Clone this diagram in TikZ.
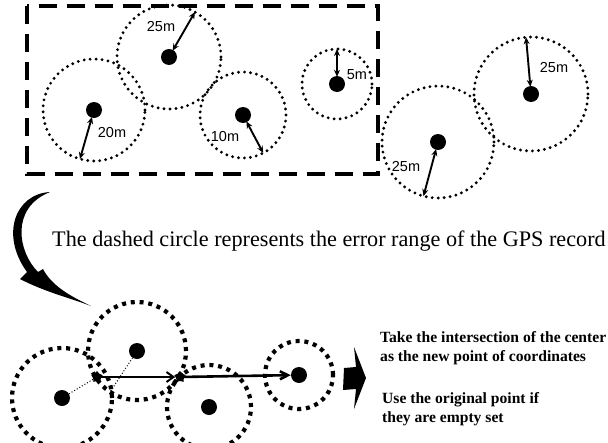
\documentclass[tikz,border=0pt]{standalone}
\usepackage{fontspec}
\setmainfont{Liberation Serif}
\newfontfamily\lsans{Liberation Sans}
\usetikzlibrary{arrows.meta,shapes.geometric}
\begin{document}
\begin{tikzpicture}[x=1pt,y=-1pt,
 dotc/.style={draw, circle, inner sep=0pt, outer sep=0pt, minimum size=#1, line width=3.2pt, dash pattern=on 0pt off 6pt, line cap=round},
 sqc/.style={draw, circle, inner sep=0pt, outer sep=0pt, minimum size=#1, line width=4.2pt, dash pattern=on 4pt off 4.8pt},
 ctr/.style={circle, fill=black, inner sep=0pt, minimum size=16pt},
 dbl/.style={line width=1.9pt, {Stealth[length=7pt,width=6pt]}-{Stealth[length=7pt,width=6pt]}, shorten <=-1pt},
 lbl/.style={font=\lsans\fontsize{14.5}{14.5}\selectfont, inner sep=0pt},
 starn/.style={star, star points=5, fill=black, inner sep=0pt, minimum size=12pt},
 bigtext/.style={font=\fontsize{22.2}{24}\selectfont, inner sep=0pt, anchor=west},
 rtext/.style={font=\bfseries\fontsize{15.6}{19}\selectfont, inner sep=0pt, anchor=west, align=left},
]
\useasboundingbox (0,0) rectangle (608,442);

% dashed frame
\draw[line width=4pt, dash pattern=on 18pt off 10pt] (27,6) rectangle (378,174);

% top circles
\node[dotc=104pt] (c1) at (169,57) {};
\node[dotc=102pt] (c2) at (94,110) {};
\node[dotc=86pt]  (c3) at (243,115) {};
\node[dotc=70pt]  (c4) at (337,84) {};
\node[dotc=114pt] (c5) at (531,94) {};
\node[dotc=112pt] (c6) at (438,142) {};

\node[ctr] (d1) at (169,57) {};
\node[ctr] (d2) at (94,110) {};
\node[ctr] (d3) at (243,115) {};
\node[ctr] (d4) at (337,84) {};
\node[ctr] (d5) at (531,94) {};
\node[ctr] (d6) at (438,142) {};

\draw[dbl] (d1) -- (c1.60);
\draw[dbl] (d2) -- (c2.254);
\draw[dbl] (d3) -- (c3.298);
\draw[dbl] (d4) -- (c4.90);
\draw[dbl] (d5) -- (c5.95);
\draw[dbl] (d6) -- (c6.255);

\node[lbl] (l1) at (161,27) {25m};
\node[lbl] (l2) at (112,133) {20m};
\node[lbl] (l3) at (225,137) {10m};
\node[lbl] (l4) at (357,75) {5m};
\node[lbl] (l5) at (554,68) {25m};
\node[lbl] (l6) at (406,167) {25m};

% curved big arrow
\fill (50,192) .. controls (15,194) and (0,235) .. (27,272)
  -- (20,279)
  .. controls (45,292) and (70,298) .. (91,306)
  .. controls (70,296) and (52,286) .. (43,269)
  -- (38,272)
  .. controls (18,252) and (10,208) .. (50,192) -- cycle;

\node[bigtext] (cap) at (52,241) {The dashed circle represents the error range of the GPS record};

% bottom circles
\node[sqc=100pt] (e1) at (62,398) {};
\node[sqc=98pt]  (e2) at (137,351) {};
\node[sqc=84pt]  (e3) at (209,407) {};
\node[sqc=68pt]  (e4) at (299,375) {};

\node[ctr] (f1) at (62,398) {};
\node[ctr] (f2) at (137,351) {};
\node[ctr] (f3) at (209,407) {};
\node[ctr] (f4) at (299,375) {};

\node[starn] (s1) at (97,377) {};
\node[starn] (s2) at (180,377) {};
\coordinate (s1b) at (110,392);

\draw[line width=1pt, dotted] (f1) -- (s1.center);
\draw[line width=1pt, dotted] (f2) -- (s1b);

\draw[line width=2pt, -{Straight Barb[length=7pt,width=10pt]}] (s1.center) -- (s2.west);
\draw[line width=2.6pt, -{Straight Barb[length=8pt,width=8pt]}] (s2.center) -- (f4);

% chevron
\fill (354,347) -- (366,378) -- (354,409) -- (356,389) -- (343,390) -- (344,368) -- (356,367) -- cycle;

\node[rtext] (t1) at (380,348.5) {Take the intersection of the center\\as the new point of coordinates};
\node[rtext] (t2) at (382,409.5) {Use the original point if\\they are empty set};
\end{tikzpicture}
\end{document}
